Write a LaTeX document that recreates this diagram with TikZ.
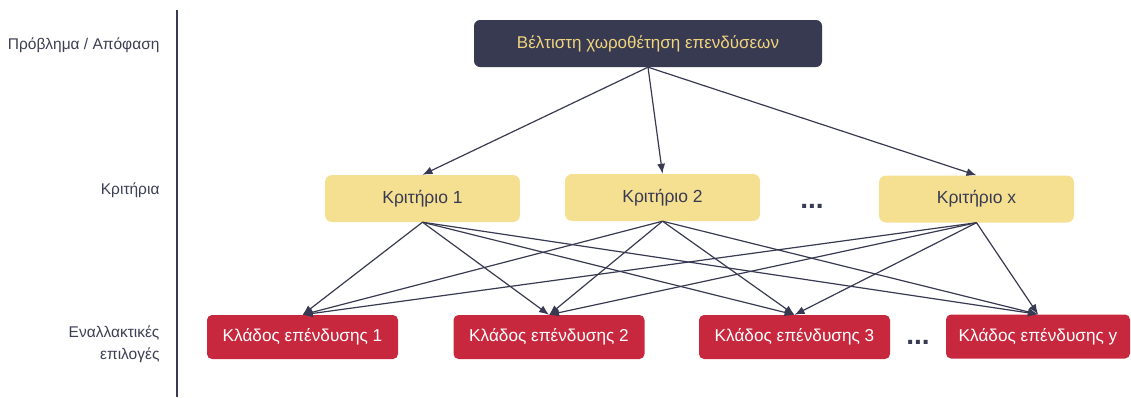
\documentclass[tikz,border=0pt]{standalone}
\usepackage{fontspec}
\setmainfont{Liberation Sans}
\usepackage{xcolor}
\usetikzlibrary{arrows.meta}
\definecolor{navy}{RGB}{56,58,82}
\definecolor{softyellow}{RGB}{245,224,146}
\definecolor{goldtext}{RGB}{240,212,126}
\definecolor{darkred}{RGB}{200,40,62}
\definecolor{labelgrey}{RGB}{60,62,84}

\tikzset{
  goalbox/.style={draw=none,fill=navy,text=goldtext,rounded corners=6pt,
    minimum width=348pt,minimum height=47pt,font=\fontsize{17}{20}\selectfont},
  critbox/.style={draw=none,fill=softyellow,text=navy,rounded corners=7pt,
    minimum width=195pt,minimum height=47pt,font=\fontsize{17.5}{20}\selectfont},
  altbox/.style={draw=none,fill=darkred,text=white,rounded corners=5pt,
    minimum width=191pt,minimum height=44pt,font=\fontsize{17.2}{20}\selectfont},
  levellabel/.style={text=labelgrey,anchor=east,align=right,
    font=\fontsize{15.5}{22}\selectfont},
  dots/.style={text=navy,font=\fontsize{28}{28}\selectfont\bfseries}
}

\begin{document}
\begin{tikzpicture}[x=1pt,y=-1pt,>={Latex[length=10pt,width=8pt]}]
  \useasboundingbox (0,0) rectangle (1131,397);
  % level labels and separator
  \node[levellabel] (lp) at (163,45) {Πρόβλημα / Απόφαση};
  \node[levellabel] (lk) at (163,190) {Κριτήρια};
  \node[levellabel] (le) at (163,344) {Εναλλακτικές\\επιλογές};
  \coordinate (st) at (177,10);
  \coordinate (sb) at (177,397);
  \draw[navy,line width=1.6pt] (st) -- (sb);

  % goal
  \node[goalbox] (g) at (648,43.5) {Βέλτιστη χωροθέτηση επενδύσεων};

  % criteria
  \node[critbox] (k1) at (422.5,198.5) {Κριτήριο 1};
  \node[critbox] (k2) at (662.5,197.5) {Κριτήριο 2};
  \node[critbox] (kx) at (976.5,199) {Κριτήριο x};
  \node[dots] (d1) at (812,206) {...};

  % alternatives
  \node[altbox] (a1) at (302.5,337) {Κλάδος επένδυσης 1};
  \node[altbox] (a2) at (549,337) {Κλάδος επένδυσης 2};
  \node[altbox] (a3) at (794.5,337) {Κλάδος επένδυσης 3};
  \node[altbox,minimum width=184pt] (ay) at (1038,336.5) {Κλάδος επένδυσης y};
  \node[dots] (d2) at (918,342) {...};

  % connections
  \foreach \k in {k1,k2,kx}
    \draw[->,navy,line width=1.2pt] (g.south) -- (\k.north);
  \foreach \k in {k1,k2,kx}
    \foreach \a in {a1,a2,a3,ay}
      \draw[->,navy,line width=1.2pt] (\k.south) -- (\a.north);
\end{tikzpicture}
\end{document}
